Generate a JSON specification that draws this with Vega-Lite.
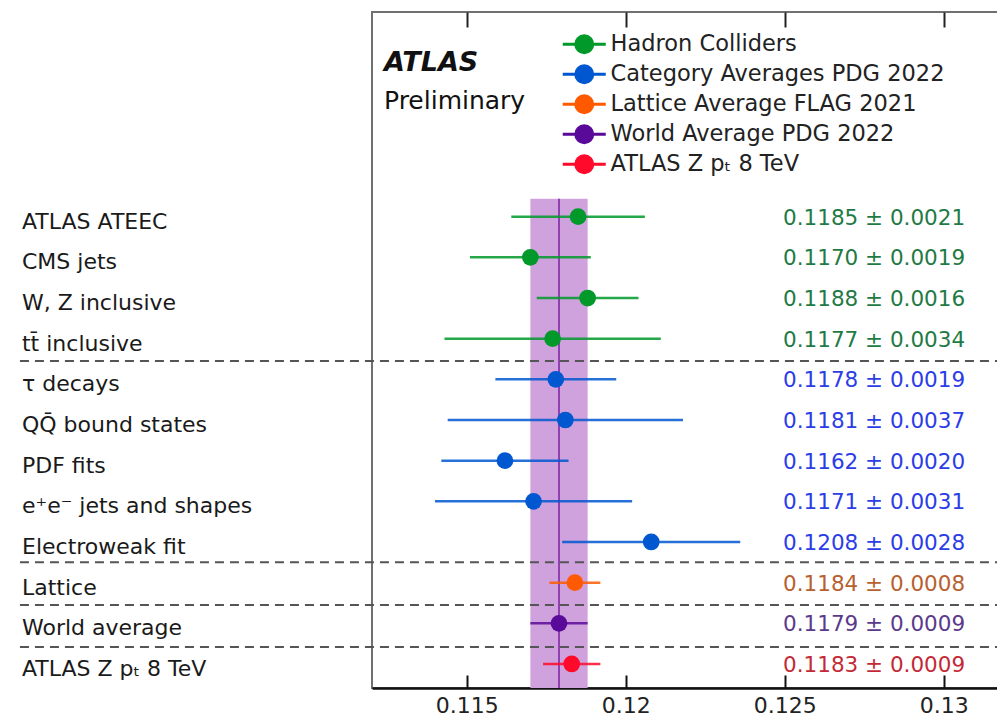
{
  "$schema": "https://vega.github.io/schema/vega-lite/v6.json",
  "width": 630,
  "height": 676,
  "autosize": {"type": "none"},
  "padding": {"left": 372, "top": 12, "right": 0, "bottom": 31},
  "background": "white",
  "config": {
    "view": {"stroke": "#707070", "strokeWidth": 2},
    "font": "DejaVu Sans"
  },
  "datasets": {
    "meas": [
      {"row": 1, "label": "ATLAS ATEEC", "value": 0.1185, "err": 0.0021, "group": "Hadron Colliders", "txt": "0.1185 ± 0.0021"},
      {"row": 2, "label": "CMS jets", "value": 0.1170, "err": 0.0019, "group": "Hadron Colliders", "txt": "0.1170 ± 0.0019"},
      {"row": 3, "label": "W, Z inclusive", "value": 0.1188, "err": 0.0016, "group": "Hadron Colliders", "txt": "0.1188 ± 0.0016"},
      {"row": 4, "label": "tt̄ inclusive", "value": 0.1177, "err": 0.0034, "group": "Hadron Colliders", "txt": "0.1177 ± 0.0034"},
      {"row": 5, "label": "τ decays", "value": 0.1178, "err": 0.0019, "group": "Category Averages PDG 2022", "txt": "0.1178 ± 0.0019"},
      {"row": 6, "label": "QQ̄ bound states", "value": 0.1181, "err": 0.0037, "group": "Category Averages PDG 2022", "txt": "0.1181 ± 0.0037"},
      {"row": 7, "label": "PDF fits", "value": 0.1162, "err": 0.0020, "group": "Category Averages PDG 2022", "txt": "0.1162 ± 0.0020"},
      {"row": 8, "label": "e⁺e⁻ jets and shapes", "value": 0.1171, "err": 0.0031, "group": "Category Averages PDG 2022", "txt": "0.1171 ± 0.0031"},
      {"row": 9, "label": "Electroweak fit", "value": 0.1208, "err": 0.0028, "group": "Category Averages PDG 2022", "txt": "0.1208 ± 0.0028"},
      {"row": 10, "label": "Lattice", "value": 0.1184, "err": 0.0008, "group": "Lattice Average FLAG 2021", "txt": "0.1184 ± 0.0008"},
      {"row": 11, "label": "World average", "value": 0.1179, "err": 0.0009, "group": "World Average PDG 2022", "txt": "0.1179 ± 0.0009"},
      {"row": 12, "label": "ATLAS Z pₜ 8 TeV", "value": 0.1183, "err": 0.0009, "group": "ATLAS Z pₜ 8 TeV", "txt": "0.1183 ± 0.0009"}
    ],
    "seps": [{"pos": 4.55}, {"pos": 9.5}, {"pos": 10.55}, {"pos": 11.58}]
  },
  "data": {"name": "meas"},
  "layer": [
    {
      "transform": [{"filter": "datum.row == 11"}],
      "mark": {"type": "rect", "color": "#cfa2dd", "opacity": 1},
      "encoding": {
        "x": {"datum": 0.1170, "type": "quantitative", "scale": {"domain": [0.11202, 0.13183], "nice": false, "zero": false},
              "axis": {"orient": "top", "values": [0.115, 0.12, 0.125, 0.13], "labels": false, "domain": false, "grid": false, "title": null, "tickSize": -15, "tickWidth": 2, "tickColor": "#222"}},
        "x2": {"datum": 0.1188},
        "y": {"datum": 0.56, "type": "quantitative", "scale": {"domain": [-4.034, 12.591], "reverse": true, "nice": false, "zero": false}, "axis": null},
        "y2": {"datum": 12.591}
      }
    },
    {
      "transform": [{"filter": "datum.row == 11"}],
      "mark": {"type": "rule", "color": "#7a1fa2", "strokeWidth": 1.5},
      "encoding": {
        "x": {"field": "value", "type": "quantitative", "scale": {"domain": [0.11202, 0.13183], "nice": false, "zero": false}, "axis": null},
        "y": {"datum": 0.56, "type": "quantitative", "scale": {"domain": [-4.034, 12.591], "reverse": true, "nice": false, "zero": false}, "axis": null},
        "y2": {"datum": 12.591}
      }
    },
    {
      "data": {"name": "seps"},
      "mark": {"type": "rule", "color": "#555555", "strokeWidth": 2, "strokeDash": [9, 6]},
      "encoding": {
        "x": {"datum": 0.10095, "type": "quantitative", "scale": {"domain": [0.11202, 0.13183], "nice": false, "zero": false}, "axis": null},
        "x2": {"datum": 0.1335},
        "y": {"field": "pos", "type": "quantitative", "scale": {"domain": [-4.034, 12.591], "reverse": true, "nice": false, "zero": false}, "axis": null}
      }
    },
    {
      "mark": {"type": "errorbar", "thickness": 2.5, "ticks": false, "opacity": 0.85},
      "encoding": {
        "x": {"field": "value", "type": "quantitative", "scale": {"domain": [0.11202, 0.13183], "nice": false, "zero": false}, "axis": null},
        "xError": {"field": "err"},
        "y": {"field": "row", "type": "quantitative", "scale": {"domain": [-4.034, 12.591], "reverse": true, "nice": false, "zero": false}, "axis": null},
        "color": {"field": "group", "type": "nominal",
                  "scale": {"domain": ["Hadron Colliders", "Category Averages PDG 2022", "Lattice Average FLAG 2021", "World Average PDG 2022", "ATLAS Z pₜ 8 TeV"],
                            "range": ["#00992a", "#0057d0", "#ff5a00", "#5a0a99", "#ff0a2a"]}}
      }
    },
    {
      "mark": {"type": "point", "filled": true, "size": 280, "opacity": 1},
      "encoding": {
        "x": {"field": "value", "type": "quantitative", "scale": {"domain": [0.11202, 0.13183], "nice": false, "zero": false},
              "axis": {"orient": "bottom", "values": [0.115, 0.12, 0.125, 0.13], "format": "~g", "title": null, "grid": false,
                       "domainColor": "#111111", "domainWidth": 2.5, "tickColor": "#111111", "tickWidth": 2, "tickSize": -13,
                       "labelPadding": 20, "labelFontSize": 22, "labelColor": "#222222", "labelFont": "DejaVu Sans"}},
        "y": {"field": "row", "type": "quantitative", "scale": {"domain": [-4.034, 12.591], "reverse": true, "nice": false, "zero": false}, "axis": null},
        "color": {"field": "group", "type": "nominal",
                  "scale": {"domain": ["Hadron Colliders", "Category Averages PDG 2022", "Lattice Average FLAG 2021", "World Average PDG 2022", "ATLAS Z pₜ 8 TeV"],
                            "range": ["#00992a", "#0057d0", "#ff5a00", "#5a0a99", "#ff0a2a"]},
                  "legend": {"orient": "none", "legendX": 201, "legendY": 21, "title": null, "padding": 0,
                             "symbolType": "M-2.53,0L2.53,0M-1,0A1,1,0,1,0,1,0A1,1,0,1,0,-1,0Z",
                             "symbolSize": 289, "symbolStrokeWidth": 3, "symbolOpacity": 1, "labelFontSize": 22.5, "labelFont": "DejaVu Sans",
                             "labelColor": "#222222", "labelOffset": 15, "rowPadding": 0, "labelLimit": 0,
                             "encode": {"symbols": {"update": {"stroke": {"scale": "color", "field": "value"}, "strokeWidth": {"value": 3}, "opacity": {"value": 1}, "fillOpacity": {"value": 1}, "strokeOpacity": {"value": 1}}}}}}
      }
    },
    {
      "mark": {"type": "text", "align": "left", "baseline": "middle", "fontSize": 21.5, "dy": 2, "font": "DejaVu Sans"},
      "encoding": {
        "x": {"datum": 0.124944, "type": "quantitative", "scale": {"domain": [0.11202, 0.13183], "nice": false, "zero": false}, "axis": null},
        "y": {"field": "row", "type": "quantitative", "scale": {"domain": [-4.034, 12.591], "reverse": true, "nice": false, "zero": false}, "axis": null},
        "text": {"field": "txt"},
        "fill": {"field": "group", "type": "nominal", "legend": null,
                 "scale": {"domain": ["Hadron Colliders", "Category Averages PDG 2022", "Lattice Average FLAG 2021", "World Average PDG 2022", "ATLAS Z pₜ 8 TeV"],
                           "range": ["#1f7a45", "#2b3de6", "#b8602f", "#5b3a8c", "#c42a35"]}}
      }
    },
    {
      "mark": {"type": "text", "align": "left", "baseline": "middle", "fontSize": 22, "dy": 5, "font": "DejaVu Sans", "color": "#1a1a1a"},
      "encoding": {
        "x": {"datum": 0.101014, "type": "quantitative", "scale": {"domain": [0.11202, 0.13183], "nice": false, "zero": false}, "axis": null},
        "y": {"field": "row", "type": "quantitative", "scale": {"domain": [-4.034, 12.591], "reverse": true, "nice": false, "zero": false}, "axis": null},
        "text": {"field": "label"}
      }
    },
    {
      "data": {"values": [{"t": "ATLAS"}]},
      "mark": {"type": "text", "align": "left", "baseline": "middle", "fontSize": 27, "fontWeight": "bold", "fontStyle": "italic", "font": "DejaVu Sans", "color": "#111111"},
      "encoding": {
        "x": {"datum": 0.112397, "type": "quantitative", "scale": {"domain": [0.11202, 0.13183], "nice": false, "zero": false}, "axis": null},
        "y": {"datum": -2.792, "type": "quantitative", "scale": {"domain": [-4.034, 12.591], "reverse": true, "nice": false, "zero": false}, "axis": null},
        "text": {"field": "t"}
      }
    },
    {
      "data": {"values": [{"t": "Preliminary"}]},
      "mark": {"type": "text", "align": "left", "baseline": "middle", "fontSize": 25, "font": "DejaVu Sans", "color": "#111111"},
      "encoding": {
        "x": {"datum": 0.112397, "type": "quantitative", "scale": {"domain": [0.11202, 0.13183], "nice": false, "zero": false}, "axis": null},
        "y": {"datum": -1.833, "type": "quantitative", "scale": {"domain": [-4.034, 12.591], "reverse": true, "nice": false, "zero": false}, "axis": null},
        "text": {"field": "t"}
      }
    }
  ],
  "resolve": {"axis": {"x": "independent"}}
}
